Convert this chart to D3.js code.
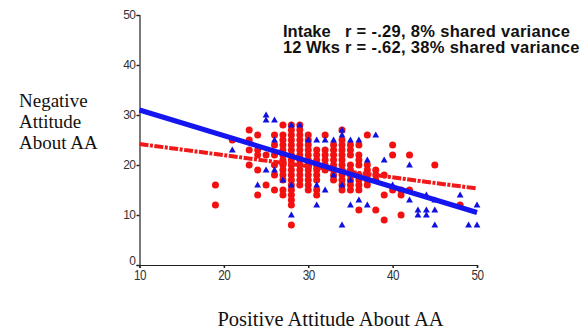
<!DOCTYPE html>
<html>
<head>
<meta charset="utf-8">
<script src="https://cdn.jsdelivr.net/npm/d3@7"></script>
<style>
  body { margin: 0; background: #fff; }
  svg { display: block; }
</style>
</head>
<body>
<svg id="chart" width="585" height="329"></svg>
<script>
// intake scores (red circles): [x, list of y values at that x]
const intakeCols = [
  [19, [16, 12]],
  [21, [25]],
  [23, [27, 25, 23, 20]],
  [24, [26, 23, 22, 19, 14]],
  [25, [22, 16]],
  [26, [26, 24, 22, 20, 18, 15]],
  [27, [28, 26, 25, 24, 23, 22, 21, 20, 19, 18, 17, 15, 14]],
  [28, [28, 27, 26, 25, 24, 23, 22, 21, 20, 19, 18, 17, 16, 15, 14, 13, 12, 8]],
  [29, [28, 27, 26, 25, 24, 23, 22, 21, 20, 19, 18, 17, 16]],
  [30, [26, 25, 24, 23, 22, 21, 20, 19, 18, 17, 16, 15]],
  [31, [23, 22, 21, 20, 19, 18, 17, 15, 14]],
  [32, [26, 23, 22, 21, 20, 19]],
  [33, [24, 23, 22, 21, 20, 19, 18, 17]],
  [34, [27, 25, 24, 23, 22, 21, 20, 19, 18, 17, 16, 15]],
  [35, [24, 23, 22, 20, 19, 18, 17, 16, 15]],
  [36, [24, 22, 21, 20, 18, 17, 16, 15, 11]],
  [37, [26, 20, 19, 18, 17, 16]],
  [38, [19, 18, 17, 11]],
  [39, [18, 14, 9]],
  [40, [24, 22, 15]],
  [41, [15, 14, 10]],
  [42, [22, 15]],
  [45, [20]],
  [48, [12]]
];

// 12 week scores (blue triangles)
const wksCols = [
  [21, [23]],
  [24, [16]],
  [25, [30, 29, 19]],
  [26, [29, 25, 19]],
  [27, [17]],
  [28, [28, 16, 10]],
  [29, [28]],
  [30, [25]],
  [31, [25, 16, 12]],
  [32, [25, 15]],
  [33, [25, 18]],
  [34, [27, 26, 16, 8]],
  [35, [25, 17, 12]],
  [36, [25, 13]],
  [37, [21, 12]],
  [38, [26]],
  [39, [21]],
  [40, [16]],
  [42, [20, 13]],
  [43, [11, 10]],
  [44, [14, 11, 10]],
  [45, [13, 11, 8]],
  [48, [14]],
  [49, [8]],
  [50, [12, 8]]
];

// fitted regression lines, endpoints at x = 10 and x = 50
const intakeFit = [[10, 24.2], [50, 15.3]];
const wksFit = [[10, 31], [50, 10.5]];

const xTicks = [10, 20, 30, 40, 50];
const yTicks = [0, 10, 20, 30, 40, 50];

const legendLines = [
  { name: 'Intake', stat: 'r = -.29, 8% shared variance' },
  { name: '12 Wks', stat: 'r = -.62, 38% shared variance' }
];
const yTitle = ['Negative', 'Attitude', 'About AA'];
const xTitle = 'Positive Attitude About AA';

const flatten = (cols) => cols.flatMap(([x, ys]) => ys.map((y) => ({ x, y })));
const intake = flatten(intakeCols);
const wks = flatten(wksCols);

const svg = d3.select('#chart');

const xScale = d3.scaleLinear().domain([10, 50]).range([139.5, 477]);
const yScale = d3.scaleLinear().domain([0, 50]).range([265, 15]);

// axes
const xAxisG = svg.append('g')
  .attr('transform', 'translate(0,265)')
  .call(d3.axisBottom(xScale).tickValues(xTicks).tickSize(3).tickPadding(1).tickFormat(d3.format('d')));
const yAxisG = svg.append('g')
  .attr('transform', 'translate(139.5,0)')
  .call(d3.axisLeft(yScale).tickValues(yTicks).tickSize(3).tickPadding(1).tickFormat(d3.format('d')));

[xAxisG, yAxisG].forEach((g) => {
  g.select('.domain').attr('stroke', '#222').attr('stroke-width', 1.2);
  g.selectAll('.tick line').attr('stroke', '#222').attr('stroke-width', 1.5);
  g.selectAll('.tick text')
    .attr('fill', '#333')
    .attr('font-family', 'Liberation Sans, Arial, sans-serif');
});
yAxisG.selectAll('.tick text')
  .attr('font-size', 12)
  .attr('letter-spacing', -0.5)
  // the zero label sits just above the x axis, clear of the "10" below it
  .attr('dy', (d) => (d === 0 ? '-0.05em' : '0.32em'));
xAxisG.selectAll('.tick text')
  .attr('font-size', 15)
  .attr('letter-spacing', -0.5)
  .attr('transform', 'scale(0.78,1)');

// points
svg.append('g')
  .selectAll('circle')
  .data(intake)
  .join('circle')
  .attr('cx', (d) => xScale(d.x))
  .attr('cy', (d) => yScale(d.y))
  .attr('r', 3.5)
  .attr('fill', '#f21010');

const tri = d3.symbol().type(d3.symbolTriangle).size(20);
svg.append('g')
  .selectAll('path')
  .data(wks)
  .join('path')
  .attr('d', tri)
  .attr('transform', (d) => `translate(${xScale(d.x)},${yScale(d.y) + 0.5})`)
  .attr('fill', '#1010e0');

// regression lines
const line = d3.line()
  .x((d) => xScale(d[0]))
  .y((d) => yScale(d[1]));

svg.append('path')
  .datum(intakeFit)
  .attr('d', line)
  .attr('fill', 'none')
  .attr('stroke', '#f01818')
  .attr('stroke-width', 4)
  .attr('stroke-dasharray', '9,1.5,3,1.5');

svg.append('path')
  .datum(wksFit)
  .attr('d', line)
  .attr('fill', 'none')
  .attr('stroke', '#1515f0')
  .attr('stroke-width', 5);

// legend text
const leg = svg.append('g')
  .attr('font-family', 'Liberation Sans, Arial, sans-serif')
  .attr('font-weight', 'bold')
  .attr('font-size', 16.5)
  .attr('fill', '#111');
leg.selectAll('text.name')
  .data(legendLines)
  .join('text')
  .attr('class', 'name')
  .attr('x', 283)
  .attr('y', (d, i) => 36.5 + i * 16.2)
  .text((d) => d.name);
leg.selectAll('text.stat')
  .data(legendLines)
  .join('text')
  .attr('class', 'stat')
  .attr('x', 345)
  .attr('y', (d, i) => 36.5 + i * 16.2)
  .attr('letter-spacing', 0.3)
  .text((d) => d.stat);

// axis titles
svg.append('g')
  .attr('font-family', 'Liberation Serif, Times New Roman, serif')
  .attr('font-size', 19)
  .attr('fill', '#111')
  .selectAll('text')
  .data(yTitle)
  .join('text')
  .attr('x', 19)
  .attr('y', (d, i) => 107 + i * 21)
  .text((d) => d);

svg.append('text')
  .attr('x', 330.5)
  .attr('y', 326)
  .attr('text-anchor', 'middle')
  .attr('font-family', 'Liberation Serif, Times New Roman, serif')
  .attr('font-size', 20.5)
  .attr('fill', '#111')
  .text(xTitle);
</script>
</body>
</html>
